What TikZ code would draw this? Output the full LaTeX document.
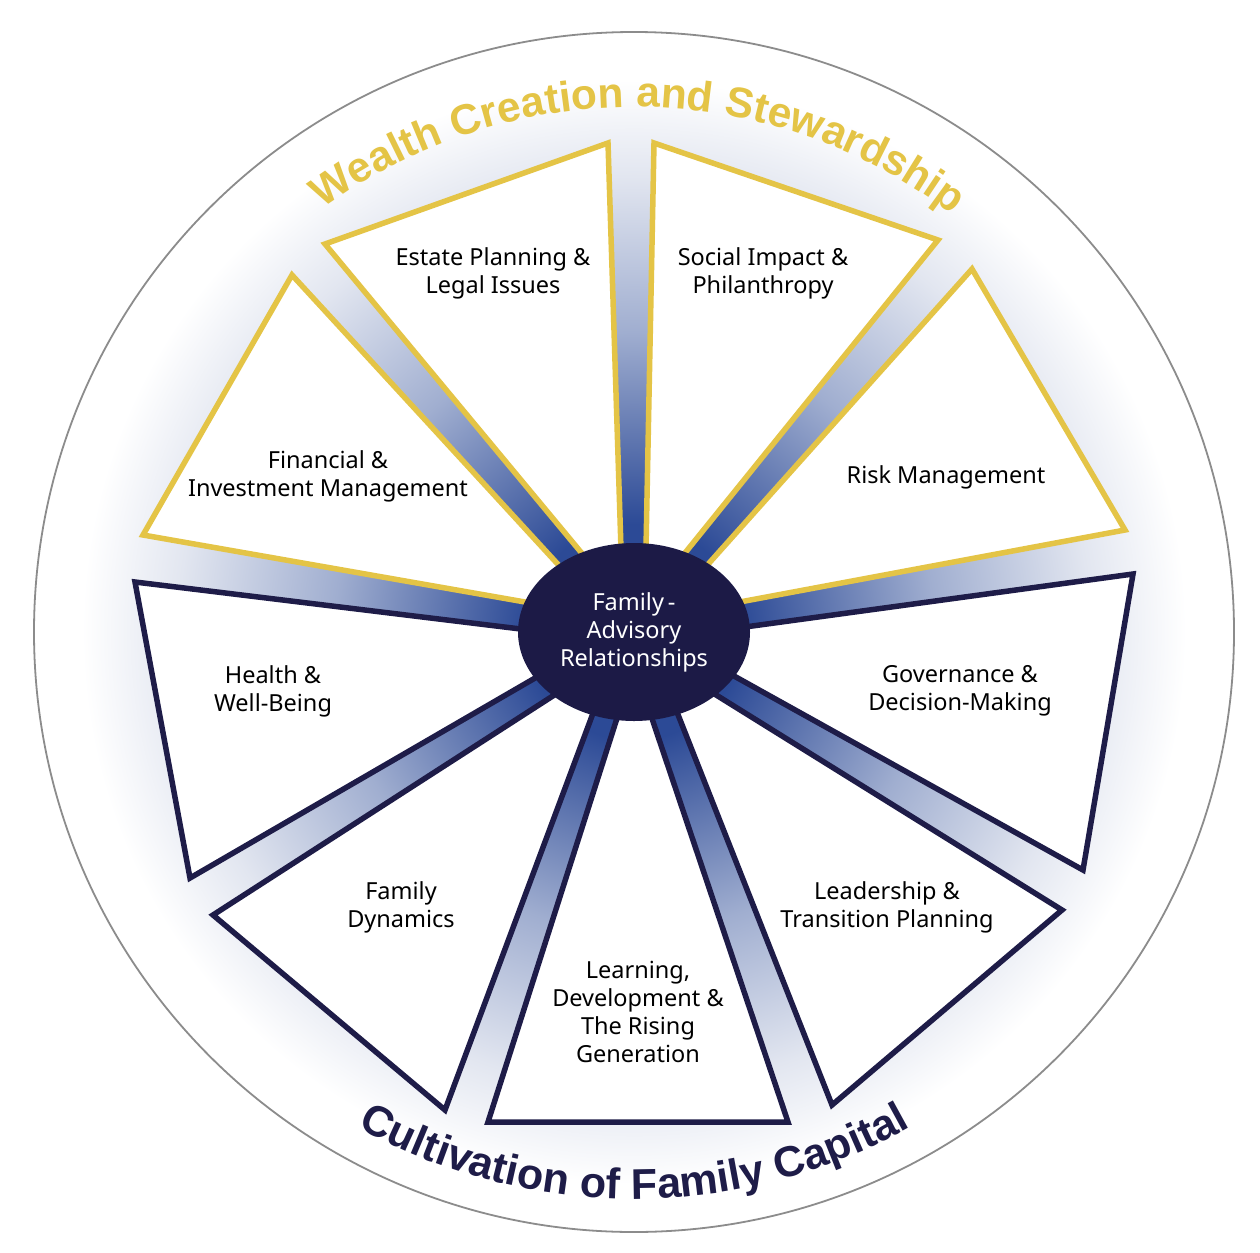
\documentclass[tikz,border=0pt]{standalone}
\usepackage{fontspec}
\setmainfont{Noto Sans}
\newfontfamily\arcfont{Liberation Sans}
\usetikzlibrary{calc,shapes.geometric,decorations.text}
\definecolor{wgold}{RGB}{228,196,70}
\definecolor{navy}{RGB}{30,28,72}
\definecolor{hubnavy}{RGB}{28,26,70}
\definecolor{spokeblue}{RGB}{44,74,150}
\definecolor{midblue}{RGB}{160,174,208}
\definecolor{paleblue}{RGB}{226,230,240}
\definecolor{circgray}{RGB}{140,140,140}
\pgfdeclareradialshading{bgshade}{\pgfpoint{0bp}{0bp}}{color(0bp)=(spokeblue); color(4.5bp)=(spokeblue); color(12.5bp)=(midblue); color(19bp)=(paleblue); color(23bp)=(white); color(25bp)=(white); color(50bp)=(white)}
\newcommand\toparcfont{\arcfont\bfseries\fontsize{42.5}{42.5}\selectfont\color{wgold}}
\newcommand\botarcfont{\arcfont\bfseries\fontsize{43}{43}\selectfont\color{navy}}
\begin{document}
\begin{tikzpicture}[x=1pt,y=1pt,
  lbl/.style={font=\fontsize{23.5}{28}\selectfont, text=black, align=center, inner sep=0pt},
  wedge/.style={fill=white, line width=5.5pt, line join=miter}]
\fill[white] (0,-1252) rectangle (1260,0);
\useasboundingbox (0,-1252) rectangle (1260,0);
\coordinate (C) at (634,-632);
% background disc
\shade[shading=bgshade] (C) circle[radius=600pt];
\draw[line width=1.8pt, circgray] (C) circle[radius=600pt];
% outer vertices of the nine wedges
\coordinate (L1) at (325,-244);  \coordinate (R1) at (608,-143);
\coordinate (L2) at (654,-143);  \coordinate (R2) at (938,-240);
\coordinate (L3) at (972,-269);  \coordinate (R3) at (1125,-530);
\coordinate (L4) at (1133,-574); \coordinate (R4) at (1083,-870);
\coordinate (L5) at (1062,-910); \coordinate (R5) at (832,-1105);
\coordinate (L6) at (788,-1122); \coordinate (R6) at (488,-1122);
\coordinate (L7) at (445,-1110); \coordinate (R7) at (213,-915);
\coordinate (L8) at (190,-878);  \coordinate (R8) at (135,-582);
\coordinate (L9) at (143,-535);  \coordinate (R9) at (292,-275);
% spoke midpoints
\foreach \k/\p in {1/9,2/1,3/2,4/3,5/4,6/5,7/6,8/7,9/8}
  \coordinate (M\k) at ($(R\p)!0.5!(L\k)$);
% inner points (hidden under the hub)
\foreach \k/\n in {1/2,2/3,3/4,4/5,5/6,6/7,7/8,8/9,9/1} {
  \coordinate (IL\k) at ($(C)+0.45*(L\k)-0.45*(M\k)$);
  \coordinate (IR\k) at ($(C)+0.45*(R\k)-0.45*(M\n)$);
}
\foreach \k/\col in {1/wgold,2/wgold,3/wgold,9/wgold,4/navy,5/navy,6/navy,7/navy,8/navy}
  \draw[wedge, draw=\col] (L\k) -- (R\k) -- (IR\k) -- (IL\k) -- cycle;
% hub
\node[ellipse, fill=hubnavy, minimum width=232pt, minimum height=178pt, inner sep=0pt,
      text=white, align=center, font=\fontsize{23.5}{28}\selectfont] (hub) at (C)
      {Family\,-\\Advisory\\Relationships};
% labels
\node[lbl] (estate) at (493,-273) {Estate Planning \&\\Legal Issues};
\node[lbl] (social) at (763,-273) {Social Impact \&\\Philanthropy};
\node[lbl] (risk) at (946,-477) {Risk Management};
\node[lbl] (gov) at (960,-691) {Governance \&\\Decision-Making};
\node[lbl] (lead) at (887,-907) {Leadership \&\\Transition Planning};
\node[lbl] (learn) at (638,-1012) {Learning,\\Development \&\\The Rising\\Generation};
\node[lbl] (famdyn) at (401,-907) {Family\\Dynamics};
\node[lbl] (health) at (273,-691) {Health \&\\Well-Being};
\node[lbl] (fin) at (328,-476) {Financial \&\\Investment Management};
% arc titles
\path[decorate, decoration={text along path, text align=center,
   text={|\toparcfont|Wealth Creation and Stewardship}}]
   ($(C)+(149.5:525pt)$) arc[start angle=149.5, end angle=29.5, radius=525pt];
\path[decorate, decoration={text along path, text align=center,
   text={|\botarcfont|Cultivation of Family Capital}}]
   ($(C)+(210:567pt)$) arc[start angle=210, end angle=330, radius=567pt];
\end{tikzpicture}
\end{document}
